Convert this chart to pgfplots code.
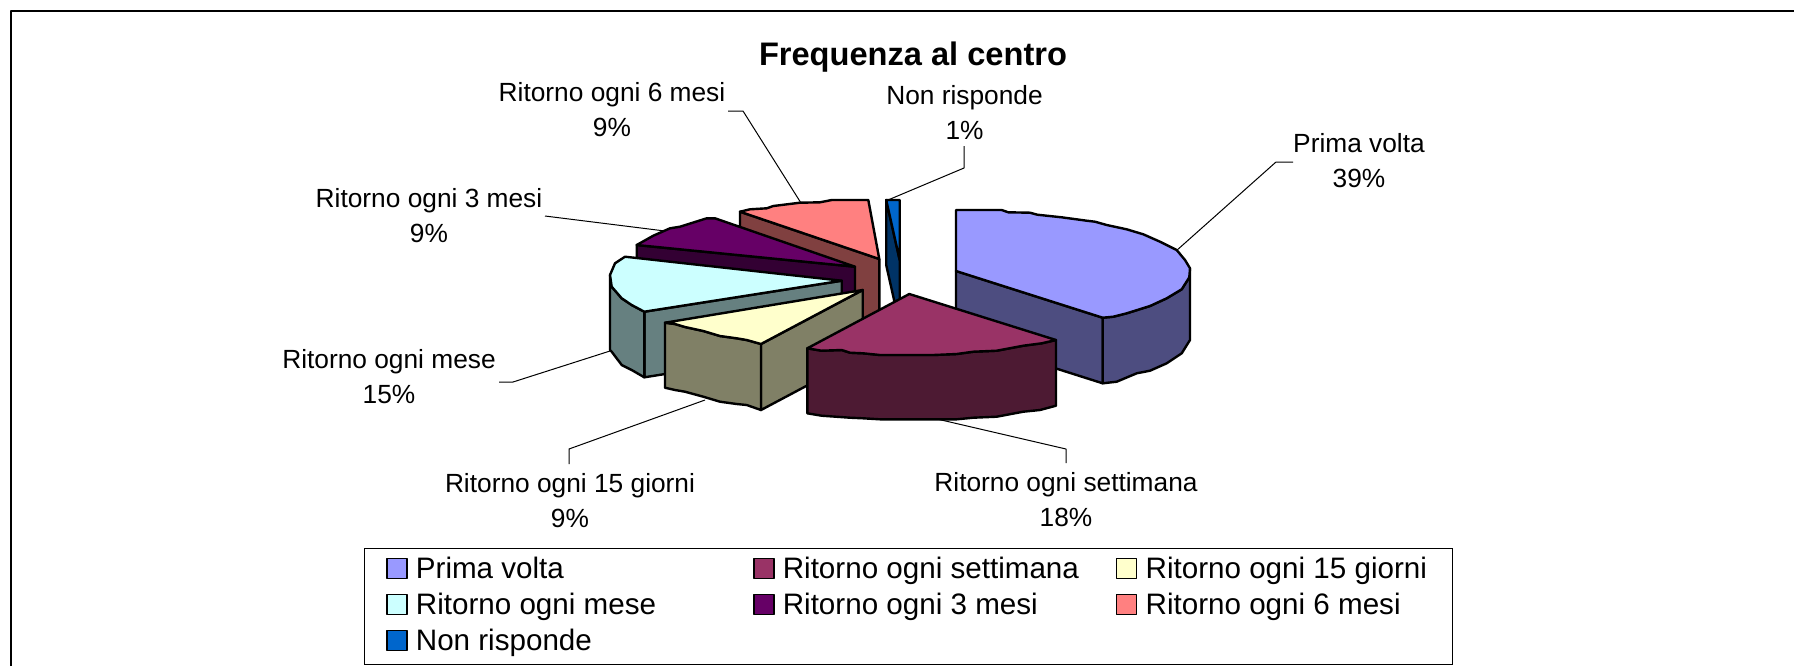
\documentclass[border=0pt]{standalone}
\usepackage{pgfplots}
\pgfplotsset{compat=1.18}
\usepackage{fontspec}
\setmainfont{Liberation Sans}
\definecolor{topA}{HTML}{9999FF}\definecolor{sideA}{HTML}{4D4D80}
\definecolor{topB}{HTML}{993366}\definecolor{sideB}{HTML}{4D1A33}
\definecolor{topC}{HTML}{FFFFCC}\definecolor{sideC}{HTML}{808066}
\definecolor{topD}{HTML}{CCFFFF}\definecolor{sideD}{HTML}{668080}
\definecolor{topE}{HTML}{660066}\definecolor{sideE}{HTML}{330033}
\definecolor{topF}{HTML}{FF8080}\definecolor{sideF}{HTML}{804040}
\definecolor{topG}{HTML}{0066CC}\definecolor{sideG}{HTML}{003366}
\begin{document}
\begin{tikzpicture}
\useasboundingbox (0,0) rectangle (897pt,333pt);
\begin{axis}[
    scale only axis, width=897pt, height=333pt,
    xmin=0, xmax=1794, ymin=0, ymax=666, y dir=reverse,
    hide axis, clip=false,
    legend cell align=left,
    legend columns=3,
    legend image code/.code={\draw[#1,line width=0.7pt] (0pt,-4pt) rectangle (10pt,6pt);\path[draw=none,fill=none] (0pt,1pt) -- (12.5pt,1pt);},
    legend style={
      at={(axis cs:364,548)}, anchor=north west,
      draw=black, line width=0.6pt, fill=white,
      font=\fontsize{14.8}{16}\selectfont,
      inner xsep=10.8pt, inner ysep=2pt,
      nodes={inner xsep=2pt, inner ysep=0pt, text height=13pt, text depth=5pt},
      /tikz/row sep=0pt,
      /tikz/column 2/.style={column sep=46.5pt},
      /tikz/column 4/.style={column sep=16.5pt},
    },
    every axis plot/.append style={line join=round},
    slice/.style={draw=black, line width=1.2pt, forget plot},
    leader/.style={draw=black, line width=0.5pt, forget plot},
  ]
  % Non risponde
  \addplot[slice, fill=sideG] coordinates {(886.2,200)(899.7,260)(899.7,325)(886.2,265)} --cycle;
  \addplot[slice, fill=topG] coordinates {(886.2,200)(899.7,200)(899.7,260)} --cycle;
  % Ritorno ogni 6 mesi
  \addplot[slice, fill=sideF] coordinates {(740,211.7)(879.3,259)(879.3,325)(740,276.7)} --cycle;
  \addplot[slice, fill=topF] coordinates {(879.3,259)(740,211.7)(750,209.3)(766.7,208.3)(773.3,206)(800,202.7)(820,202.3)(831.7,200)(868.3,200)} --cycle;
  % Ritorno ogni 3 mesi
  \addplot[slice, fill=sideE] coordinates {(855,266.7)(636.7,245)(636.7,310)(855,331.7)} --cycle;
  \addplot[slice, fill=topE] coordinates {(855,266.7)(636.7,245)(653.3,235.7)(670,228.3)(680,226.7)(706.7,218.3)(715,218.3)} --cycle;
  % Ritorno ogni mese
  \addplot[slice, fill=sideD] coordinates {(841.7,280.7)(644.3,311.7)(644.3,377.3)(841.7,346)} --cycle;
  \addplot[slice, fill=sideD] coordinates {(644.3,311.7)(631.7,305)(621.7,298.3)(611.7,286.7)(610,275)(610,350)(611.7,351.7)(621.7,365)(631.7,370)(644.3,377.3)} --cycle;
  \addplot[slice, fill=topD] coordinates {(841.7,280.7)(644.3,311.7)(631.7,305)(621.7,298.3)(611.7,286.7)(610,275)(615,263.3)(625,256.7)} --cycle;
  % Prima volta
  \addplot[slice, fill=sideA] coordinates {(956,271)(1102.7,317.7)(1102.7,383.3)(956,336.7)} --cycle;
  \addplot[slice, fill=sideA] coordinates {(1102.7,317.7)(1113.3,316.7)(1126.7,313.3)(1150,306)(1166.7,298.3)(1181.7,289.3)(1189.3,277.3)(1190,268.3)(1190,340)(1181.7,353.3)(1166.7,363.3)(1150,370.7)(1136.7,373.3)(1116.7,381.7)(1102.7,383.3)} --cycle;
  \addplot[slice, fill=topA] coordinates {(956,271)(956,210)(1001.7,210)(1008.3,212.3)(1030,212.7)(1037.3,214.7)(1061.7,217.3)(1086.7,220.7)(1095,221.7)(1106.7,225)(1126.7,229.3)(1143.3,234.3)(1160,241.7)(1176.7,250)(1185,260)(1190,268.3)(1189.3,277.3)(1181.7,289.3)(1166.7,298.3)(1150,306)(1126.7,313.3)(1113.3,316.7)(1102.7,317.7)} --cycle;
  % Ritorno ogni 15 giorni
  \addplot[slice, fill=sideC] coordinates {(862.7,290)(761,344)(761,410)(862.7,356)} --cycle;
  \addplot[slice, fill=sideC] coordinates {(665,322.7)(675,324)(685,327)(703.3,331)(720,336)(736.7,338.3)(746.7,340)(761,344)(761,410)(746.7,405)(736.7,404)(720,401.7)(703.3,396.7)(685,391.7)(675,390)(665,387.7)} --cycle;
  \addplot[slice, fill=topC] coordinates {(862.7,290)(761,344)(746.7,340)(736.7,338.3)(720,336)(703.3,331)(685,327)(675,324)(665,322.7)} --cycle;
  % Ritorno ogni settimana
  \addplot[slice, fill=sideB] coordinates {(807.3,348.3)(821.7,350.7)(841.7,350)(850,352.7)(863.3,353.3)(880,355)(900,355)(933.3,355)(956.7,354)(973.3,351.7)(996.7,350.7)(1023.3,345.7)(1041.7,343.3)(1056,340)(1056,405.7)(1040,410)(1023.3,411.7)(996.7,416.7)(973.3,417.7)(956.7,419.3)(933.3,419.3)(900,419.3)(880,419.3)(863.3,418.3)(850,417.7)(821.7,415.7)(807.3,413.3)} --cycle;
  \addplot[slice, fill=topB] coordinates {(909.3,294)(1056,340)(1041.7,343.3)(1023.3,345.7)(996.7,350.7)(973.3,351.7)(956.7,354)(933.3,355)(900,355)(880,355)(863.3,353.3)(850,352.7)(841.7,350)(821.7,350.7)(807.3,348.3)} --cycle;
  % leader lines
  \addplot[leader] coordinates {(1176,251)(1276,162)(1293,162)};
  \addplot[leader] coordinates {(888,200)(964,168)(964,146)};
  \addplot[leader] coordinates {(801,203)(743,111)(728,111)};
  \addplot[leader] coordinates {(665,231)(545,216)};
  \addplot[leader] coordinates {(610,351)(513,382)(499,382)};
  \addplot[leader] coordinates {(705,400)(569,449)(569,464)};
  \addplot[leader] coordinates {(937,419)(1066,449)(1066,463)};
  % frame, open at the right and at the bottom
  \addplot[draw=black, line width=1pt, forget plot] coordinates {(11,666)(11,10.5)(1794,10.5)};
  % legend
  \addlegendimage{fill=topA}\addlegendentry{Prima volta}
  \addlegendimage{fill=topB}\addlegendentry{Ritorno ogni settimana}
  \addlegendimage{fill=topC}\addlegendentry{Ritorno ogni 15 giorni\hspace{18.5pt}}
  \addlegendimage{fill=topD}\addlegendentry{Ritorno ogni mese}
  \addlegendimage{fill=topE}\addlegendentry{Ritorno ogni 3 mesi}
  \addlegendimage{fill=topF}\addlegendentry{Ritorno ogni 6 mesi}
  \addlegendimage{fill=topG}\addlegendentry{Non risponde}
  % texts
  \node[font=\bfseries\fontsize{16.3}{18}\selectfont] at (axis cs:913,57) {Frequenza al centro};
  \begin{scope}[every node/.style={align=center, font=\fontsize{13.15}{17.5}\selectfont}]
  \node at (axis cs:612,110) {Ritorno ogni 6 mesi\\9\%};
  \node at (axis cs:964.5,112.5) {Non risponde\\1\%};
  \node at (axis cs:1359,161) {Prima volta\\39\%};
  \node at (axis cs:429,216) {Ritorno ogni 3 mesi\\9\%};
  \node at (axis cs:389,377) {Ritorno ogni mese\\15\%};
  \node at (axis cs:570,501) {Ritorno ogni 15 giorni\\9\%};
  \node at (axis cs:1066,500) {Ritorno ogni settimana\\18\%};
  \end{scope}
\end{axis}
\end{tikzpicture}
\end{document}
